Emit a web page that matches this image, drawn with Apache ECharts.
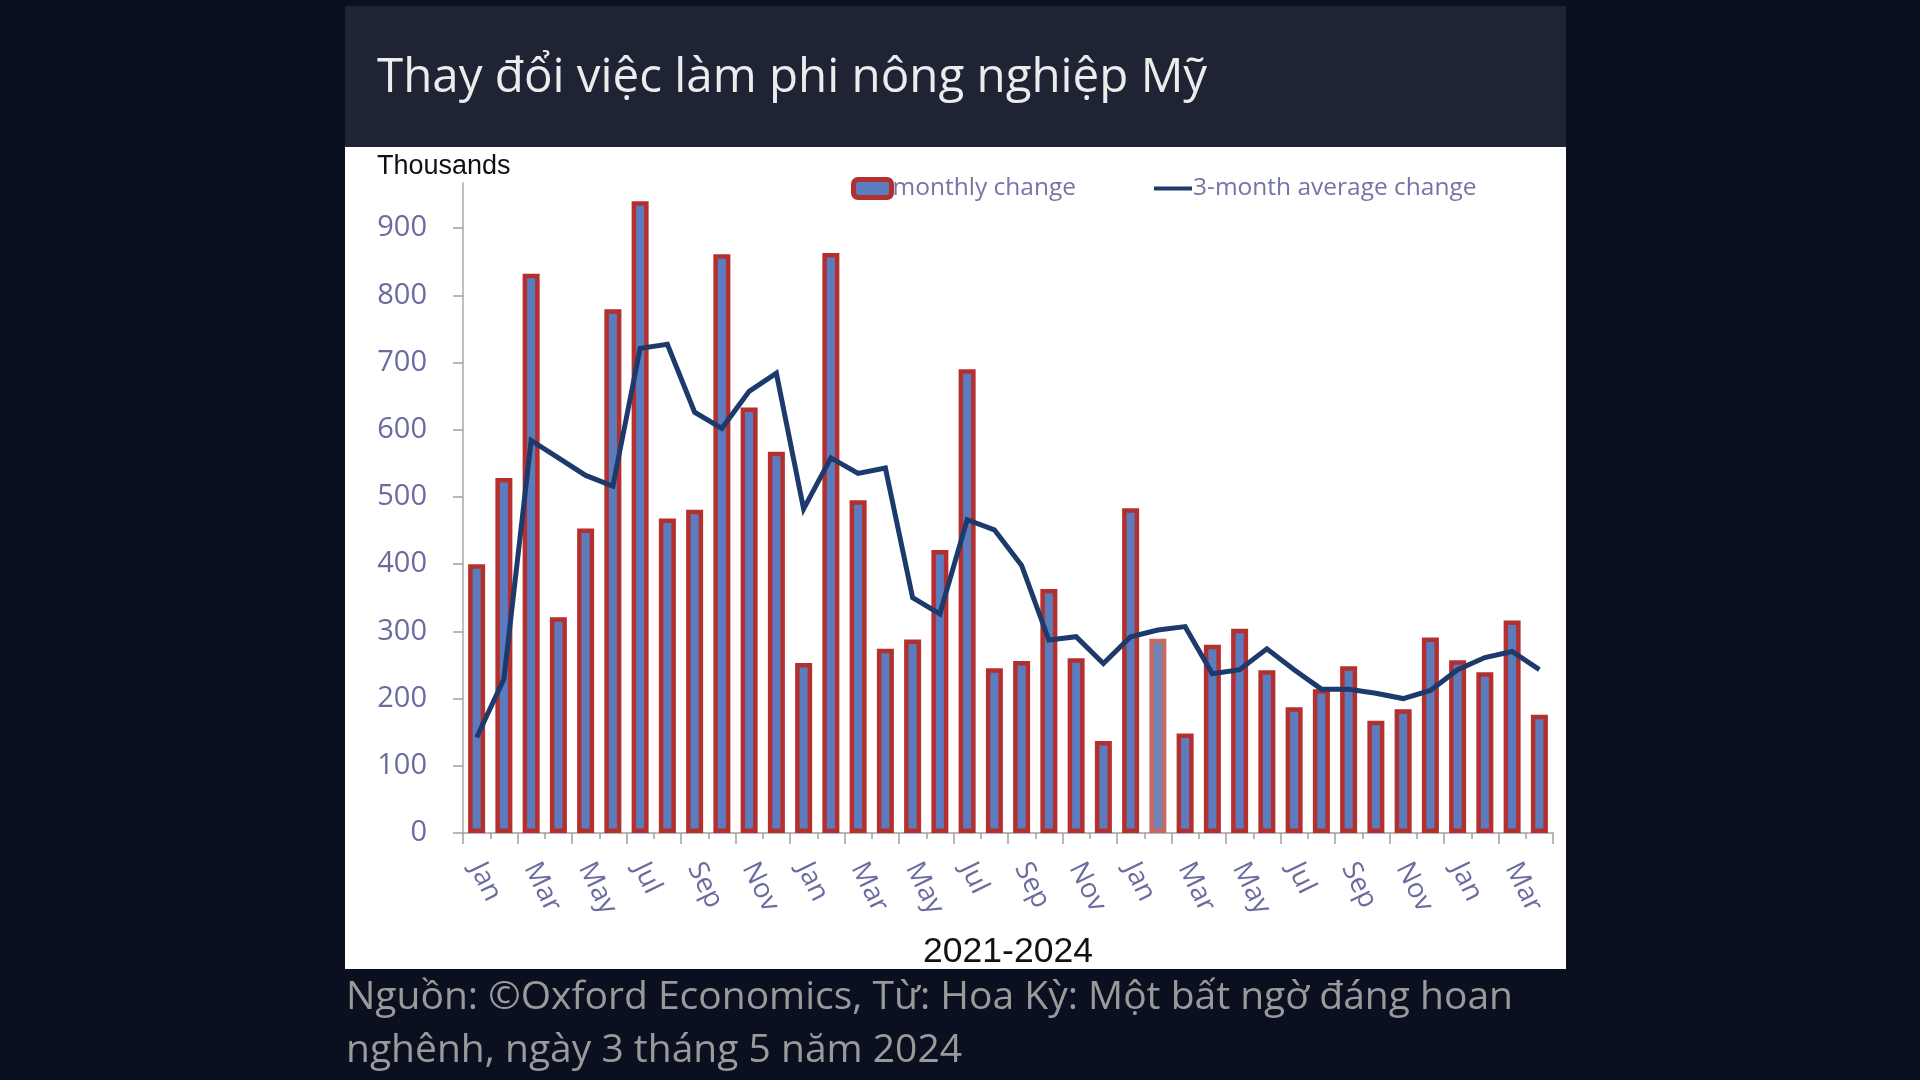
<!DOCTYPE html>
<html>
<head>
<meta charset="utf-8">
<script src="https://cdn.jsdelivr.net/npm/echarts@6/dist/echarts.min.js"></script>
<style>
html,body{margin:0;padding:0;background:#0a1020;}
#c{width:1920px;height:1080px;}
</style>
</head>
<body>
<div id="c"></div>
<script>
const titleText = 'Thay đổi việc làm phi nông nghiệp Mỹ';
const sourceText = 'Nguồn: ©Oxford Economics, Từ: Hoa Kỳ: Một bất ngờ đáng hoan\nnghênh, ngày 3 tháng 5 năm 2024';
const unitText = 'Thousands';
const periodText = '2021-2024';
const seriesNames = ['monthly change', '3-month average change'];

const months = [
  'Jan','Feb','Mar','Apr','May','Jun','Jul','Aug','Sep','Oct','Nov','Dec',
  'Jan','Feb','Mar','Apr','May','Jun','Jul','Aug','Sep','Oct','Nov','Dec',
  'Jan','Feb','Mar','Apr','May','Jun','Jul','Aug','Sep','Oct','Nov','Dec',
  'Jan','Feb','Mar','Apr'
];
const monthlyChange = [
  400,528,832,321,453,779,940,468,481,861,633,567,
  253,863,495,274,288,421,690,245,256,363,260,137,
  483,289,148,280,304,242,187,214,248,167,184,291,
  257,239,316,176
];
const avgChange = [
  142,229,584,558,532,516,721,727,626,602,657,684,
  482,558,535,543,350,326,466,451,398,287,292,252,
  292,302,307,237,243,274,243,214,214,208,200,212,
  243,261,270,243
];
const yTicks = [0,100,200,300,400,500,600,700,800,900];
const fadedIndex = 25;

const chart = echarts.init(document.getElementById('c'), null, {renderer:'canvas'});
const labelColor = '#6b6ba0';
const barData = monthlyChange.map((v,i)=> i===fadedIndex
  ? {value:v, itemStyle:{color:'#6f86b6', borderColor:'#c46a64'}}
  : v);

chart.setOption({
  backgroundColor:'#0a1020',
  animation:false,
  graphic:[
    {type:'rect', shape:{x:345,y:6,width:1221,height:141}, style:{fill:'#1f2434'}, z:-10},
    {type:'rect', shape:{x:345,y:147,width:1221,height:822}, style:{fill:'#ffffff'}, z:-10}
  ],
  title:[
    {text:titleText, left:372, top:49, textStyle:{color:'#ececec', fontFamily:'Open Sans', fontWeight:'normal', fontSize:47.5}},
    {text:unitText, left:372, top:148, textStyle:{color:'#111111', fontFamily:'Liberation Sans', fontWeight:'normal', fontSize:27}},
    {text:periodText, left:1003, top:929, textAlign:'center', textStyle:{color:'#111111', fontFamily:'Liberation Sans', fontWeight:'normal', fontSize:35.5}},
    {text:sourceText, left:341, top:966, textStyle:{color:'#9a9a9a', fontFamily:'Open Sans', fontWeight:'normal', fontSize:39, lineHeight:53}}
  ],
  legend:{
    left:846, top:171, itemGap:78, itemWidth:38, itemHeight:18,
    textStyle:{color:'#7474a6', fontFamily:'Open Sans', fontSize:24.5, padding:[0,0,0,-4]},
    data:[
      {name:seriesNames[0], itemStyle:{borderWidth:5}},
      {name:seriesNames[1], icon:'path://M0,0L48,0L48,5L0,5Z'}
    ]
  },
  grid:{left:463, right:367, top:183, bottom:247, containLabel:false},
  xAxis:[
    {type:'category', data:months, boundaryGap:true,
      axisLine:{show:true, lineStyle:{color:'#a0a0a0', width:1.5}},
      axisTick:{show:true, interval:0, length:6, lineStyle:{color:'#a0a0a0', width:1.5}},
      axisLabel:{interval:1, rotate:-64, margin:31, color:labelColor, fontFamily:'Open Sans', fontSize:27.5}
    },
    {type:'category', data:months, boundaryGap:true, position:'bottom',
      axisLine:{show:false},
      axisTick:{show:true, interval:1, length:11, lineStyle:{color:'#a0a0a0', width:1.5}},
      axisLabel:{show:false}
    }
  ],
  yAxis:{
    type:'value', min:0, max:967, interval:100,
    axisLine:{show:true, lineStyle:{color:'#a8a8a8', width:1.5}},
    axisTick:{show:true, length:10, lineStyle:{color:'#a0a0a0', width:1.5}},
    splitLine:{show:false},
    axisLabel:{margin:36, color:labelColor, fontFamily:'Open Sans', fontSize:29, showMaxLabel:false,
      formatter:(v)=> yTicks.indexOf(v)>=0 ? String(v) : ''}
  },
  series:[
    {name:seriesNames[0], type:'bar', data:barData, barWidth:17,
      itemStyle:{color:'#5b7dbf', borderColor:'#b3302f', borderWidth:4.5}},
    {name:seriesNames[1], type:'line', data:avgChange, symbol:'none', z:5,
      lineStyle:{color:'#1c3a6c', width:5, join:'miter'}, itemStyle:{color:'#1c3a6c'}}
  ]
});
</script>
</body>
</html>
